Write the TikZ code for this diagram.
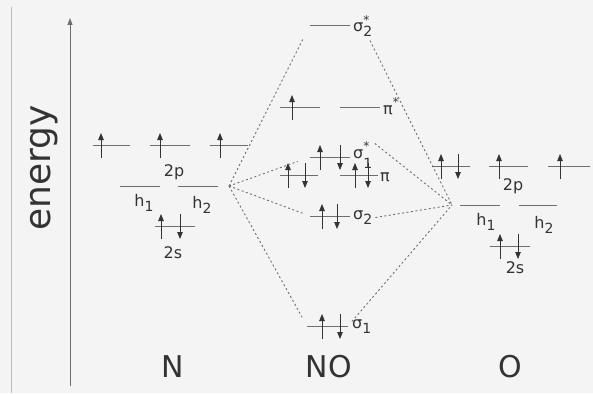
\documentclass[tikz,border=0pt]{standalone}
\usepackage{fontspec}
\setmainfont{DejaVu Sans}
\usetikzlibrary{arrows.meta}
\definecolor{bgc}{HTML}{F4F4F4}
\definecolor{ink}{HTML}{333333}
\definecolor{lvc}{HTML}{6E6E6E}
\definecolor{frame}{HTML}{BBBBBB}
\tikzset{
  lvline/.style={draw=lvc, line width=0.9pt},
  spin/.style={draw=ink, line width=0.8pt, -{Triangle[length=7pt,width=5.5pt]}},
  conn/.style={draw=lvc, line width=0.9pt, dash pattern=on 2pt off 2.5pt},
  lab/.style={text=ink, font=\fontsize{16}{18}\selectfont, inner sep=0pt},
  biglab/.style={text=ink, font=\fontsize{30}{32}\selectfont, inner sep=0pt},
}
\newcommand\mylevel[4]{\draw[lvline] (#2,#4) coordinate (#1-l) -- (#3,#4) coordinate (#1-r);}
\newcommand\myup[2]{\draw[spin] (#1,#2+13) -- (#1,#2-12);}
\newcommand\mydown[2]{\draw[spin] (#1,#2-12) -- (#1,#2+13);}
\newcommand\subs[1]{\raisebox{-0.55ex}{\fontsize{14}{14}\selectfont #1}}
\newcommand\sups[1]{\raisebox{0.9ex}{\fontsize{12}{12}\selectfont #1}}
\begin{document}
\begin{tikzpicture}[x=1pt,y=-1pt]
\fill[bgc] (0,0) rectangle (593,393);
\useasboundingbox (0,0) rectangle (593,393);
% frame line and axis
\draw[frame, line width=1pt] (11,7) coordinate (fa) -- (11,393) coordinate (fb);
\draw[draw=lvc, line width=0.9pt, -{Triangle[length=7pt,width=5pt]}] (70,386) coordinate (ax0) -- (70,18) coordinate (ax1);
\node[text=ink, font=\fontsize{36}{38}\selectfont, inner sep=0pt, rotate=90] (energy) at (44,168) {energy};
% N atom
\mylevel{na}{93}{130}{145} \myup{101}{145}
\mylevel{nb}{150}{190}{145} \myup{160}{145}
\mylevel{nc}{210}{248}{145} \myup{220}{145}
\node[lab] (n2p) at (174,172) {2p};
\mylevel{nh1}{120}{160}{186}
\mylevel{nh2}{178}{218}{186}
\node[lab] (nh1lab) at (144,203) {h\subs{1}};
\node[lab] (nh2lab) at (202,205) {h\subs{2}};
\mylevel{ns}{155}{195}{226} \myup{161}{226} \mydown{180}{226}
\node[lab] (n2s) at (173,253) {2s};
\coordinate (nL) at (229,186);
% NO molecule
\mylevel{ssa}{310}{350}{25}
\node[lab, anchor=west] (lssa) at (353,26) {σ\rlap{\sups{*}}\subs{2}};
\mylevel{psa}{280}{320}{107} \myup{292}{107}
\mylevel{psb}{340}{380}{107}
\node[lab, anchor=west] (lpsb) at (383,106) {π\sups{*}};
\mylevel{sia}{310}{350}{157} \myup{320}{157} \mydown{340}{157}
\node[lab, anchor=west] (lsia) at (353,155) {σ\rlap{\sups{*}}\raisebox{-1.1ex}{\fontsize{14}{14}\selectfont 1}};
\mylevel{pia}{280}{318}{175} \myup{288}{175} \mydown{305}{175}
\mylevel{pib}{340}{378}{175} \myup{355}{175} \mydown{368}{175}
\node[lab, anchor=west] (lpib) at (380,177) {π};
\mylevel{sb}{310}{350}{216} \myup{322}{216} \mydown{337}{216}
\node[lab, anchor=west] (lsb) at (353,218) {σ\subs{2}};
\mylevel{sc}{307}{348}{326} \myup{322}{326} \mydown{340}{326}
\node[lab, anchor=west] (lsc) at (352,327) {σ\subs{1}};
% O atom
\mylevel{oa}{432}{470}{166} \myup{441}{166} \mydown{458}{166}
\mylevel{ob}{489}{528}{166} \myup{499}{166}
\mylevel{oc}{548}{590}{166} \myup{560}{166}
\node[lab] (o2p) at (513,186) {2p};
\mylevel{oh1}{460}{500}{205}
\mylevel{oh2}{519}{557}{205}
\node[lab] (oh1lab) at (486,222) {h\subs{1}};
\node[lab] (oh2lab) at (544,225) {h\subs{2}};
\mylevel{os}{490}{530}{246} \myup{500}{246} \mydown{518}{246}
\node[lab] (o2s) at (515,268) {2s};
\coordinate (oR) at (452,205);
% correlation lines
\draw[conn, shorten >=16pt] (nL) -- (ssa-l);
\draw[conn, shorten >=13pt] (nL) -- (sia-l);
\draw[conn, shorten >=8pt] (nL) -- (sb-l);
\draw[conn, shorten >=10pt] (nL) -- (sc-l);
\draw[conn, shorten <=4pt] (lssa) -- (oR);
\draw[conn, shorten <=3pt] (lsia.north east) -- (oR);
\draw[conn, shorten <=3pt] (lsb.east) -- (oR);
\draw[conn, shorten <=6pt] (sc-r) -- (oR);
% bottom labels
\node[biglab] (lN) at (173,367) {N};
\node[biglab] (lNO) at (329,367) {NO};
\node[biglab] (lO) at (510,367) {O};
\end{tikzpicture}
\end{document}
